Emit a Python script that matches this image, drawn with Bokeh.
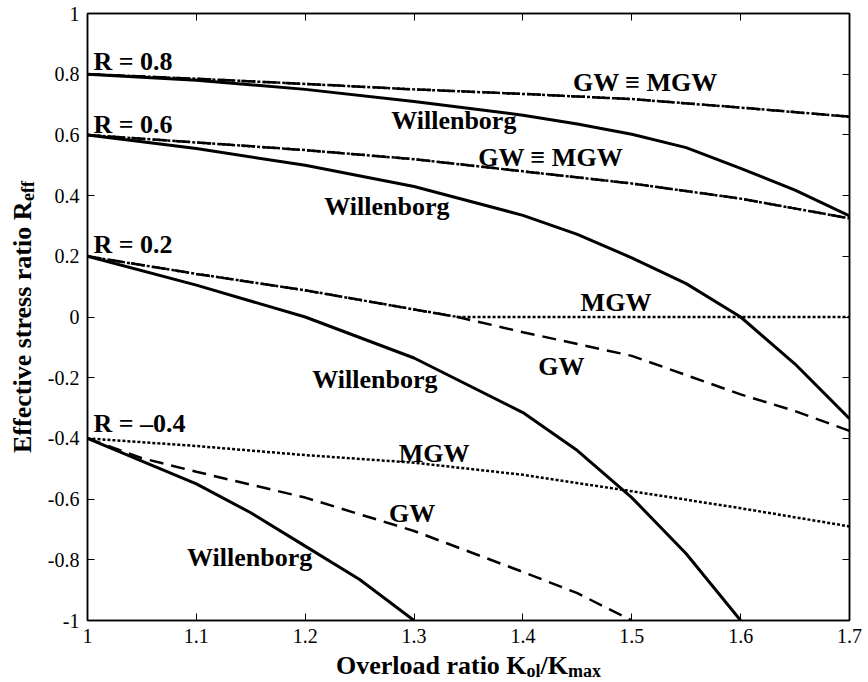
import math
from bokeh.plotting import figure
from bokeh.layouts import gridplot
from bokeh.models import Label, LinearAxis, FixedTicker, Range1d, CustomJSTickFormatter
from bokeh.embed import file_html
from bokeh.resources import INLINE

# ---------------- data ----------------
x_ticks = [1.0, 1.1, 1.2, 1.3, 1.4, 1.5, 1.6, 1.7]
x_tick_labels = ["1", "1.1", "1.2", "1.3", "1.4", "1.5", "1.6", "1.7"]
y_ticks = [-1.0, -0.8, -0.6, -0.4, -0.2, 0.0, 0.2, 0.4, 0.6, 0.8, 1.0]
y_tick_labels = ["-1", "-0.8", "-0.6", "-0.4", "-0.2", "0", "0.2", "0.4", "0.6", "0.8", "1"]

# R = 0.8
r08_will_x = [1.0, 1.1, 1.2, 1.3, 1.4, 1.45, 1.5, 1.55, 1.6, 1.65, 1.7]
r08_will_y = [0.8, 0.78, 0.75, 0.71, 0.665, 0.636, 0.602, 0.558, 0.49, 0.418, 0.333]
r08_gw_x = [1.0, 1.1, 1.2, 1.3, 1.4, 1.5, 1.6, 1.7]
r08_gw_y = [0.8, 0.785, 0.768, 0.75, 0.735, 0.718, 0.69, 0.66]
r08_mgw_x = [1.0, 1.1, 1.2, 1.3, 1.4, 1.5, 1.6, 1.7]
r08_mgw_y = [0.8, 0.785, 0.768, 0.75, 0.735, 0.718, 0.69, 0.66]

# R = 0.6
r06_will_x = [1.0, 1.1, 1.2, 1.3, 1.4, 1.45, 1.5, 1.55, 1.6, 1.65, 1.7]
r06_will_y = [0.6, 0.555, 0.5, 0.43, 0.335, 0.272, 0.195, 0.11, 0.0, -0.155, -0.335]
r06_gw_x = [1.0, 1.1, 1.2, 1.3, 1.4, 1.5, 1.6, 1.7]
r06_gw_y = [0.6, 0.575, 0.55, 0.52, 0.48, 0.44, 0.39, 0.325]
r06_mgw_x = [1.0, 1.1, 1.2, 1.3, 1.4, 1.5, 1.6, 1.7]
r06_mgw_y = [0.6, 0.575, 0.55, 0.52, 0.48, 0.44, 0.39, 0.325]

# R = 0.2
r02_will_x = [1.0, 1.1, 1.2, 1.3, 1.4, 1.45, 1.5, 1.55, 1.6]
r02_will_y = [0.2, 0.105, 0.0, -0.135, -0.315, -0.44, -0.595, -0.78, -1.0]
r02_gw_x = [1.0, 1.1, 1.2, 1.3, 1.34, 1.4, 1.5, 1.6, 1.65, 1.7]
r02_gw_y = [0.2, 0.142, 0.088, 0.025, 0.0, -0.05, -0.128, -0.255, -0.31, -0.375]
r02_mgw_x = [1.0, 1.1, 1.2, 1.3, 1.34, 1.4, 1.5, 1.6, 1.7]
r02_mgw_y = [0.2, 0.142, 0.088, 0.025, 0.0, 0.0, 0.0, 0.0, 0.0]

# R = -0.4
rm04_will_x = [1.0, 1.05, 1.1, 1.15, 1.2, 1.25, 1.3]
rm04_will_y = [-0.4, -0.475, -0.55, -0.645, -0.755, -0.865, -1.0]
rm04_gw_x = [1.0, 1.05, 1.1, 1.2, 1.3, 1.4, 1.45, 1.5]
rm04_gw_y = [-0.4, -0.465, -0.51, -0.595, -0.705, -0.84, -0.91, -1.0]
rm04_mgw_x = [1.0, 1.1, 1.2, 1.3, 1.4, 1.5, 1.6, 1.7]
rm04_mgw_y = [-0.4, -0.425, -0.455, -0.48, -0.52, -0.574, -0.63, -0.69]

# curve annotations (text, left-baseline position in data units)
label_texts = ["R = 0.8", "R = 0.6", "R = 0.2", "R = \u20130.4",
               "GW \u2261 MGW", "Willenborg", "GW \u2261 MGW", "Willenborg",
               "MGW", "GW", "Willenborg", "MGW", "GW", "Willenborg"]
label_x = [1.0055, 1.0055, 1.0055, 1.0055,
           1.446, 1.279, 1.359, 1.2175,
           1.453, 1.414, 1.2065, 1.286, 1.277, 1.0914]
label_y = [0.82, 0.61, 0.216, -0.374,
           0.748, 0.626, 0.502, 0.341,
           0.026, -0.187, -0.2295, -0.472, -0.672, -0.816]

x_title = ["Overload ratio K", "ol", "/K", "max"]
y_title = ["Effective stress ratio R", "eff"]

# ---------------- geometry (px) ----------------
FONT = "Liberation Serif"
YLAB_W = 40
MAIN_W, MAIN_H = 822, 650
XLAB_H = 30
BL, BR, BT, BB = 47, 13, 13, 30
X0, X1, Y0, Y1 = 1.0, 1.7, -1.0, 1.0
FRAME_W = MAIN_W - BL - BR
FRAME_H = MAIN_H - BT - BB
PX_PER_X = FRAME_W / (X1 - X0)
PX_PER_Y = FRAME_H / (Y1 - Y0)
BASE_FIX = 7   # lift so that the text baseline sits on the anchor

p = figure(width=MAIN_W, height=MAIN_H, x_range=Range1d(X0, X1), y_range=Range1d(Y0, Y1),
           output_backend="svg", toolbar_location=None,
           min_border_left=BL, min_border_right=BR, min_border_top=BT, min_border_bottom=BB,
           background_fill_color="white", border_fill_color="white")
p.grid.visible = False
p.outline_line_color = "black"
p.outline_line_width = 1.5


def style_axis(ax, overrides=None):
    ax.axis_label = None
    ax.axis_line_color = "black"
    ax.axis_line_width = 1.5
    ax.major_tick_in = 7
    ax.major_tick_out = 0
    ax.major_tick_line_color = "black"
    ax.major_tick_line_width = 1
    ax.minor_tick_line_color = None
    if overrides is not None:
        ax.major_label_text_font = FONT
        ax.major_label_text_font_size = "20px"
        ax.major_label_text_color = "black"
        ax.major_label_standoff = 8
        ax.major_label_overrides = overrides
    else:
        ax.formatter = CustomJSTickFormatter(code="return ''")
        ax.major_label_text_font_size = "1px"
        ax.major_label_standoff = 0


p.xaxis.ticker = FixedTicker(ticks=x_ticks)
p.yaxis.ticker = FixedTicker(ticks=y_ticks)
style_axis(p.xaxis[0], {v: s for v, s in zip(x_ticks, x_tick_labels)})
style_axis(p.yaxis[0], {v: s for v, s in zip(y_ticks, y_tick_labels)})

top_ax = LinearAxis(ticker=FixedTicker(ticks=x_ticks))
right_ax = LinearAxis(ticker=FixedTicker(ticks=y_ticks))
style_axis(top_ax)
style_axis(right_ax)
p.add_layout(top_ax, "above")
p.add_layout(right_ax, "right")

SOLID = dict(line_color="black", line_width=3)
DASH = dict(line_color="black", line_width=2.5, line_dash="14 8")
DOT = dict(line_color="black", line_width=2.5, line_dash="3 2")

for wx, wy, gx, gy, mx, my in [
    (r08_will_x, r08_will_y, r08_gw_x, r08_gw_y, r08_mgw_x, r08_mgw_y),
    (r06_will_x, r06_will_y, r06_gw_x, r06_gw_y, r06_mgw_x, r06_mgw_y),
    (r02_will_x, r02_will_y, r02_gw_x, r02_gw_y, r02_mgw_x, r02_mgw_y),
    (rm04_will_x, rm04_will_y, rm04_gw_x, rm04_gw_y, rm04_mgw_x, rm04_mgw_y),
]:
    p.line(wx, wy, **SOLID)
    p.line(gx, gy, **DASH)
    p.line(mx, my, **DOT)

for t, lx, ly in zip(label_texts, label_x, label_y):
    p.add_layout(Label(x=lx, y=ly, y_offset=BASE_FIX, text=t, text_font=FONT,
                       text_font_style="bold", text_font_size="26px", text_color="black",
                       text_align="left", text_baseline="alphabetic"))

MAIN, SUB = 26, 18


def strip(w, h, xr, yr):
    f = figure(width=w, height=h, x_range=xr, y_range=yr,
               output_backend="svg", toolbar_location=None,
               x_axis_type=None, y_axis_type=None, min_border=0,
               background_fill_color="white", border_fill_color="white")
    f.grid.visible = False
    f.outline_line_color = None
    return f


# x title strip: shares the x scale of the main frame, y in px from strip bottom
xs = strip(MAIN_W, XLAB_H, p.x_range, Range1d(0, XLAB_H))
x_widths = [7.333 * MAIN, 0.778 * SUB, 1.056 * MAIN, 1.833 * SUB]
x_sizes = [MAIN, SUB, MAIN, SUB]
x_drop = [0, 5, 0, 5]
sx = (X0 + X1) / 2 - sum(x_widths) / 2 / PX_PER_X
for t, w, fs, d in zip(x_title, x_widths, x_sizes, x_drop):
    xs.add_layout(Label(x=sx, y=8 - d, y_offset=BASE_FIX, text=t, text_font=FONT,
                        text_font_style="bold", text_font_size=f"{fs}px", text_color="black",
                        text_align="left", text_baseline="alphabetic"))
    sx += w / PX_PER_X

# y title strip: shares the y scale of the main frame, x in px
ys = strip(YLAB_W, MAIN_H, Range1d(0, YLAB_W), p.y_range)
y_widths = [9.691 * MAIN, 1.11 * SUB]
y_sizes = [MAIN, SUB]
y_drop = [0, 5]
sy = (Y0 + Y1) / 2 - sum(y_widths) / 2 / PX_PER_Y
for t, w, fs, d in zip(y_title, y_widths, y_sizes, y_drop):
    ys.add_layout(Label(x=29 + d, y=sy, x_offset=-BASE_FIX, text=t, text_font=FONT,
                        text_font_style="bold", text_font_size=f"{fs}px", text_color="black",
                        text_align="left", text_baseline="alphabetic",
                        angle=math.pi / 2))
    sy += w / PX_PER_Y

grid = gridplot([[ys, p], [None, xs]], toolbar_location=None)
open("out.html", "w").write(file_html(grid, INLINE))
